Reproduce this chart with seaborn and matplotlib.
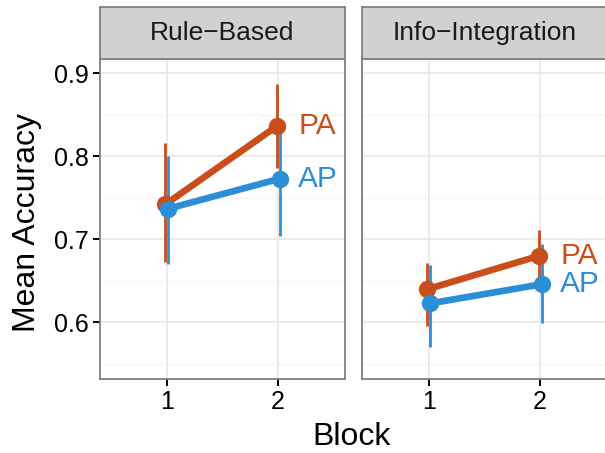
import matplotlib
matplotlib.use("Agg")
import matplotlib.pyplot as plt
import seaborn as sns
import pandas as pd
import numpy as np

# ---- data ----
panels = ["Rule\u2212Based", "Info\u2212Integration"]
groups = ["PA", "AP"]
blocks = [1, 2]
rb_pa_mean = [0.742, 0.836]
rb_pa_lo = [0.673, 0.786]
rb_pa_hi = [0.816, 0.887]
rb_ap_mean = [0.737, 0.773]
rb_ap_lo = [0.670, 0.704]
rb_ap_hi = [0.800, 0.830]
ii_pa_mean = [0.640, 0.680]
ii_pa_lo = [0.596, 0.650]
ii_pa_hi = [0.671, 0.711]
ii_ap_mean = [0.623, 0.646]
ii_ap_lo = [0.571, 0.599]
ii_ap_hi = [0.669, 0.694]
y_ticks = [0.6, 0.7, 0.8, 0.9]

rows = []
for panel, data in zip(panels, [
        {"PA": (rb_pa_mean, rb_pa_lo, rb_pa_hi), "AP": (rb_ap_mean, rb_ap_lo, rb_ap_hi)},
        {"PA": (ii_pa_mean, ii_pa_lo, ii_pa_hi), "AP": (ii_ap_mean, ii_ap_lo, ii_ap_hi)}]):
    for g in groups:
        m, lo, hi = data[g]
        for b, mm, l, h in zip(blocks, m, lo, hi):
            rows.append(dict(Panel=panel, Group=g, Block=b, Mean=mm, Lo=l, Hi=h))
df = pd.DataFrame(rows)

palette = {"PA": "#C94E1B", "AP": "#2B8ED6"}
dodge = {"PA": -0.014, "AP": 0.014}
df["X"] = df["Block"] + df["Group"].map(dodge)

sns.set_theme(style="white")
plt.rcParams["font.family"] = ["Liberation Sans", "DejaVu Sans"]

W, H = 605, 453
fig = plt.figure(figsize=(W / 100, H / 100), dpi=100)

def px_axes(l, t, r, b):
    return fig.add_axes([l / W, 1 - b / H, (r - l) / W, (b - t) / H])

panel_pos = [(100, 345), (362, 607)]
top, bottom = 59, 379
strip_top = 7

for i, (panel, (l, r)) in enumerate(zip(panels, panel_pos)):
    ax = px_axes(l, top, r, bottom)
    sub = df[df["Panel"] == panel]
    ax.set_xlim(0.4, 2.6)
    ax.set_ylim(0.532, 0.917)
    # grid
    for y in y_ticks:
        ax.axhline(y, color="#E6E6E6", lw=1.1, zorder=0)
    for y in [0.55, 0.65, 0.75, 0.85]:
        ax.axhline(y, color="#F4F4F4", lw=0.8, zorder=0)
    for x in blocks:
        ax.axvline(x, color="#E6E6E6", lw=1.1, zorder=0)
    # error bars
    for g in groups:
        s = sub[sub["Group"] == g]
        ax.vlines(s["X"], s["Lo"], s["Hi"], color=palette[g], lw=2.0, zorder=1)
    sns.lineplot(data=sub, x="X", y="Mean", hue="Group", hue_order=groups,
                 palette=palette, lw=4.8, ax=ax, legend=False, zorder=2,
                 marker="o", markersize=12.5, markeredgewidth=0)
    for g in groups:
        s = sub[sub["Group"] == g]
        last = s[s["Block"] == max(blocks)].iloc[0]
        ax.text(last["Block"] + 0.18, last["Mean"], g, color=palette[g],
                fontsize=21.5, ha="left", va="center", zorder=5)
    ax.set_xticks(blocks)
    ax.set_xticklabels([str(b) for b in blocks])
    ax.set_yticks(y_ticks)
    if i == 0:
        ax.set_yticklabels([f"{y:.1f}" for y in y_ticks])
        ax.tick_params(axis="y", left=True, length=5, width=1.4, color="black",
                       labelsize=18, pad=3, labelcolor="black")
    else:
        ax.tick_params(axis="y", left=False, labelleft=False)
    ax.tick_params(axis="x", bottom=True, length=5, width=1.4, color="black",
                   labelsize=18, pad=3, labelcolor="black")
    ax.set_xlabel("")
    ax.set_ylabel("")
    for sp in ax.spines.values():
        sp.set_visible(True)
        sp.set_color("#808080")
        sp.set_linewidth(1.3)
    ax.set_facecolor("white")
    # strip
    sax = px_axes(l, strip_top, r, top)
    sax.set_facecolor("#D1D1D1")
    sax.set_xticks([])
    sax.set_yticks([])
    for sp in sax.spines.values():
        sp.set_visible(True)
        sp.set_color("#808080")
        sp.set_linewidth(1.3)
    sax.text(0.5, 0.5, panel, transform=sax.transAxes, ha="center", va="center",
             fontsize=19, color="#1A1A1A")

fig.text(352 / W, 1 - 437 / H, "Block", ha="center", va="center", fontsize=23,
         color="black")
fig.text(27 / W, 1 - 222 / H, "Mean Accuracy", ha="center", va="center",
         rotation=90, fontsize=23, color="black")

fig.savefig("out.png", dpi=100, facecolor="white")
